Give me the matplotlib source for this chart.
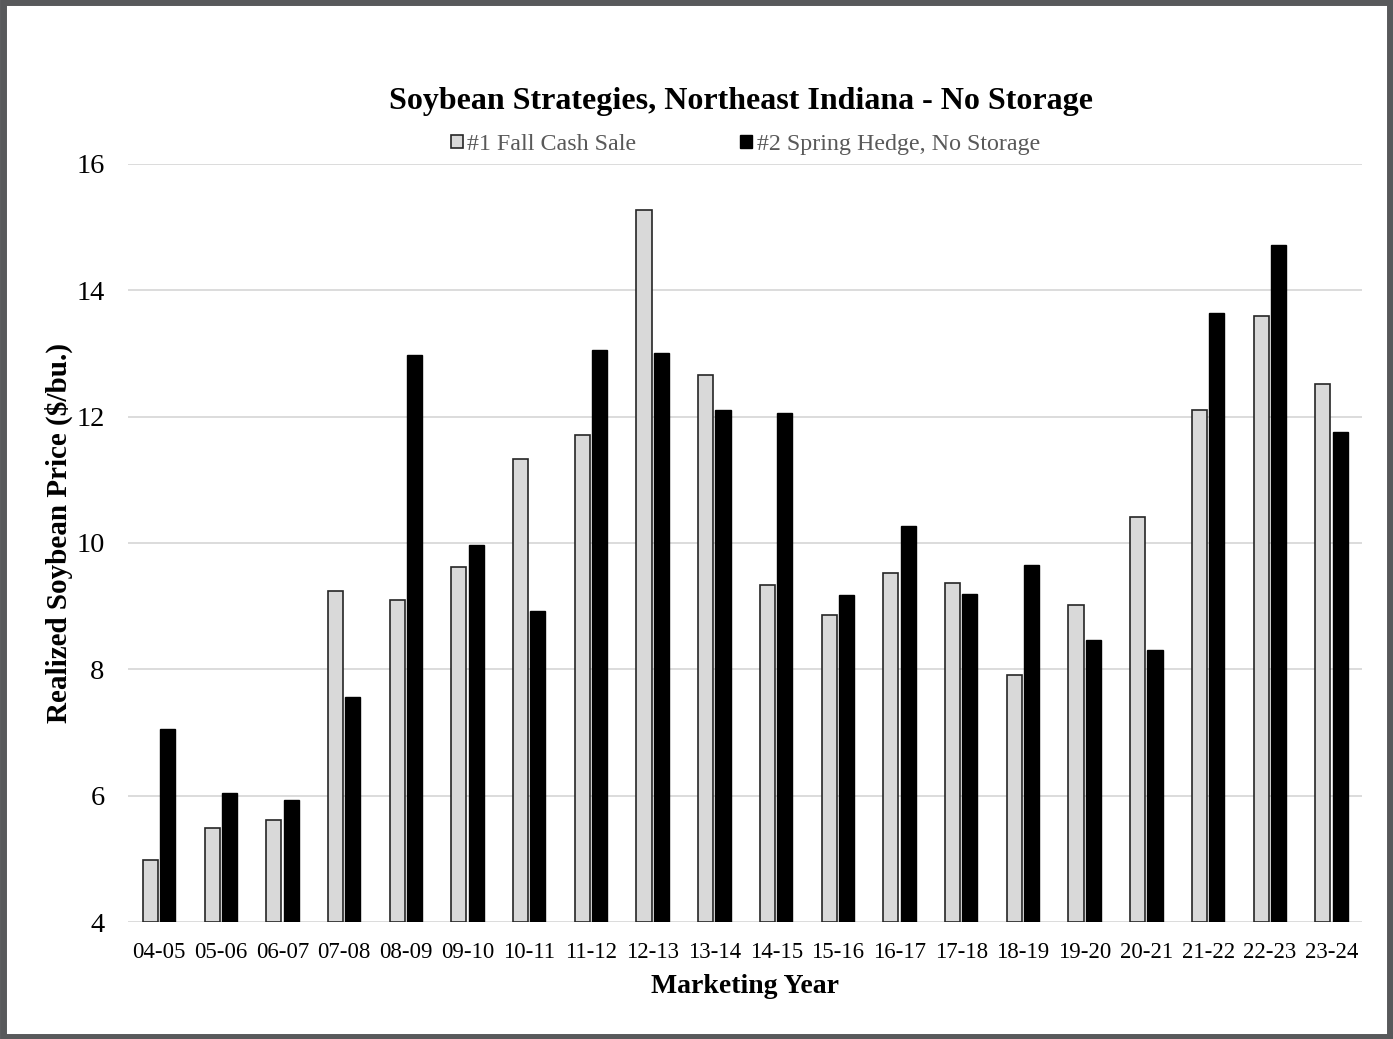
import matplotlib.pyplot as plt
import numpy as np
from matplotlib.patches import Rectangle

years = ['04-05', '05-06', '06-07', '07-08', '08-09', '09-10', '10-11', '11-12', '12-13', '13-14',
         '14-15', '15-16', '16-17', '17-18', '18-19', '19-20', '20-21', '21-22', '22-23', '23-24']
fall_cash = [4.98, 5.49, 5.61, 9.24, 9.10, 9.62, 11.33, 11.71, 15.27, 12.66,
             9.33, 8.86, 9.52, 9.37, 7.91, 9.02, 10.41, 12.11, 13.59, 12.52]
spring_hedge = [7.06, 6.04, 5.93, 7.56, 12.98, 9.97, 8.92, 13.05, 13.01, 12.11,
                12.06, 9.18, 10.27, 9.19, 9.65, 8.46, 8.31, 13.64, 14.72, 11.76]

plt.rcParams['font.family'] = ['Liberation Serif', 'DejaVu Serif']

fig = plt.figure(figsize=(13.93, 10.39), dpi=100)
ax = fig.add_axes([0.092, 0.1126, 0.886, 0.7296])

x = np.arange(len(years))
w = 0.245
ax.bar(x - 0.14, np.array(fall_cash) - 4, w, bottom=4, color='#d9d9d9', edgecolor='#262626',
       linewidth=1.2, label='#1 Fall Cash Sale', zorder=3)
ax.bar(x + 0.14, np.array(spring_hedge) - 4, w, bottom=4, color='black', edgecolor='black',
       linewidth=1.0, label='#2 Spring Hedge, No Storage', zorder=3)

ax.set_xlim(-0.5, len(years) - 0.5)
ax.set_ylim(4, 16)
ax.set_yticks([4, 6, 8, 10, 12, 14, 16])
ax.set_xticks(x)
ax.set_xticklabels(years, fontsize=16.5)
ax.tick_params(axis='y', labelsize=20.5, length=0, pad=17)
ax.tick_params(axis='x', length=0, pad=14.5)
ax.grid(axis='y', color='#d9d9d9', linewidth=1.3, zorder=0)
for s in ax.spines.values():
    s.set_visible(False)

ax.set_xlabel('Marketing Year', fontsize=20, fontweight='bold', labelpad=8)
ax.set_ylabel('Realized Soybean Price ($/bu.)', fontsize=21, fontweight='bold', labelpad=2)
ax.yaxis.label.set_y(0.513)

fig.text(0.532, 0.902, 'Soybean Strategies, Northeast Indiana - No Storage', ha='center', va='center',
         fontsize=23, fontweight='bold')
leg = ax.legend(loc='lower center', bbox_to_anchor=(0.5, 0.996), ncol=2, frameon=False, fontsize=17.3,
                handlelength=0.5, handleheight=0.5, handletextpad=0.2, columnspacing=4.3,
                borderaxespad=0.1)
for t in leg.get_texts():
    t.set_color('#595959')

# outer frame of the picture
fig.patches.append(Rectangle((0.002, 0.002), 0.996, 0.996, transform=fig.transFigure,
                             fill=False, edgecolor='#58595b', linewidth=5))

fig.savefig('out.png', dpi=100)
